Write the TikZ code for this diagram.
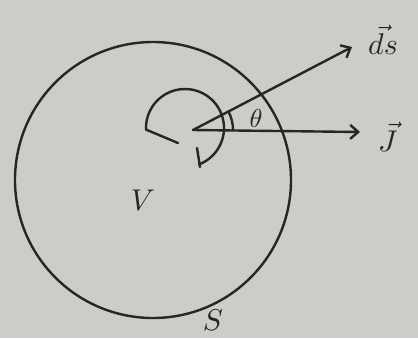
\documentclass[tikz,border=0pt]{standalone}
\usepackage{graphicx}
\usetikzlibrary{arrows.meta}
\definecolor{paper}{RGB}{204,204,201}
\definecolor{ink}{RGB}{38,38,40}
\newcommand{\bigtxt}[1]{\scalebox{3}{#1}}
\begin{document}
\begin{tikzpicture}[x=1pt,y=-1pt,
  pen/.style={draw=ink,line width=2.4pt,line cap=round,line join=round},
  vecarrow/.style={pen,-{Straight Barb[length=8pt,width=14pt,line width=2.4pt]}},
  lbl/.style={text=ink,inner sep=0pt}]
\fill[paper] (0,0) rectangle (418,338);
\useasboundingbox (0,0) rectangle (418,338);
% surface S
\node[pen,circle,minimum size=276pt,inner sep=0pt] (S) at (153,180) {};
% origin and vector tips
\coordinate (O) at (193,130);
\coordinate (dsTip) at (352,47);
\coordinate (JTip) at (360,132);
\draw[vecarrow] (O) -- (dsTip);
\draw[vecarrow] (O) -- (JTip);
% angle theta
\draw[pen] ([shift={(0:40)}]O) arc[start angle=0,end angle=-28,radius=40];
\node[lbl] (th) at (256,118) {\scalebox{2.6}{$\theta$}};
% solid angle sketch
\coordinate (C) at (185,128);
\draw[pen] ([shift={(177:39)}]C) arc[start angle=177,end angle=429,radius=39];
\draw[pen] (147,130) -- (178,143);
\draw[pen] (200,167) -- (197,148);
% labels
\node[lbl] (V) at (143,200) {\bigtxt{$V$}};
\node[lbl] (Slab) at (213,320) {\bigtxt{$S$}};
\node[lbl] (Jlab) at (388,137) {\bigtxt{$\vec{J}$}};
\node[lbl] (dslab) at (383,40) {\bigtxt{$\vec{ds}$}};
\end{tikzpicture}
\end{document}
